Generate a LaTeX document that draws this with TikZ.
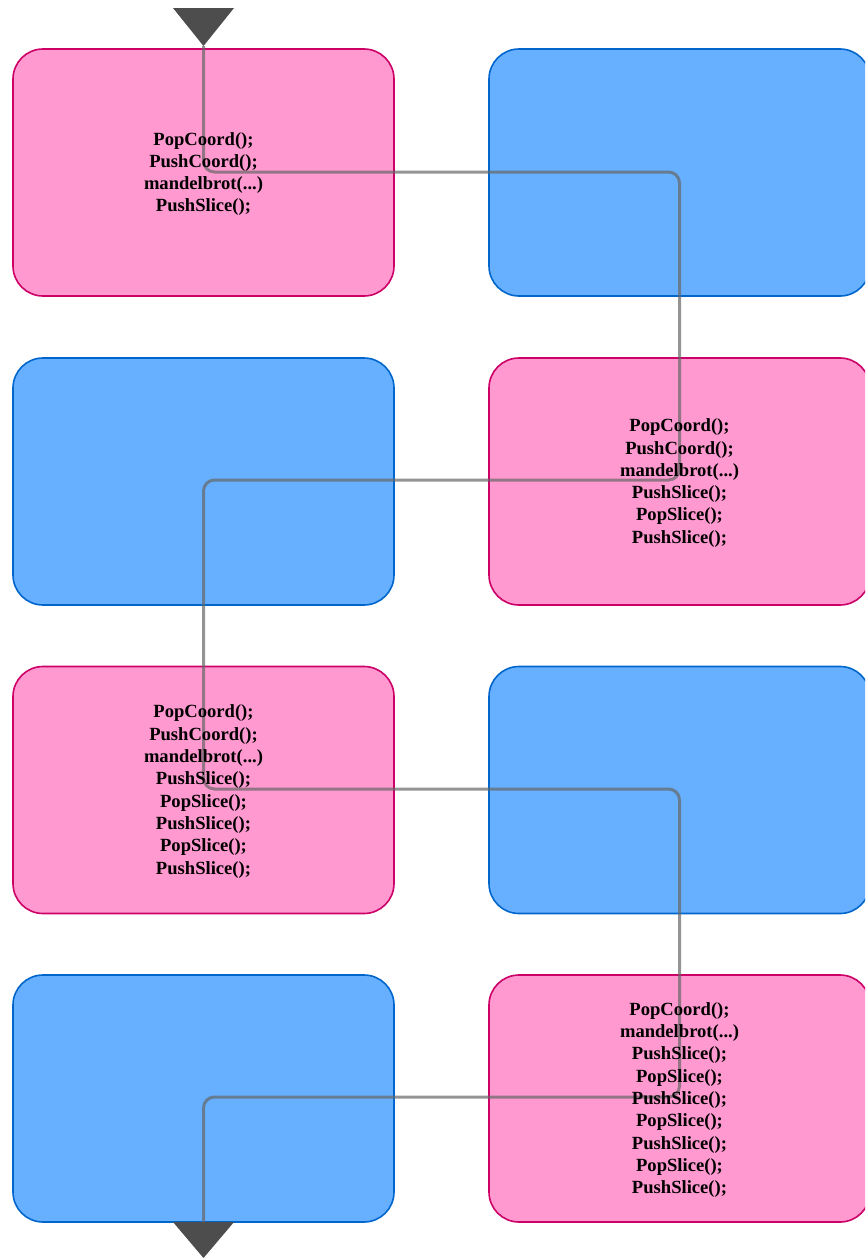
\documentclass[tikz,border=0pt]{standalone}
\usepackage{fontspec}
\setmainfont{Liberation Serif}
\begin{document}
\definecolor{pinkfill}{HTML}{FF99D0}
\definecolor{pinkline}{HTML}{CC0066}
\definecolor{bluefill}{HTML}{66B0FF}
\definecolor{blueline}{HTML}{0066CC}
\definecolor{flowgray}{HTML}{666666}
\definecolor{tipgray}{HTML}{4D4D4D}
\begin{tikzpicture}[x=1pt,y=-1pt,
  card/.style={rectangle, rounded corners=30pt, line width=1.6pt,
    minimum width=381pt, minimum height=247pt, inner sep=0pt},
  work/.style={card, fill=pinkfill, draw=pinkline},
  idle/.style={card, fill=bluefill, draw=blueline},
  code/.style={align=center, font=\fontsize{18.6}{22.3}\selectfont\bfseries},
  flow/.style={draw=flowgray, draw opacity=0.7, line width=3pt, rounded corners=11pt},
  tip/.style={fill=tipgray}]
\useasboundingbox (0,0) rectangle (865,1258);
\clip (0,0) rectangle (865,1258);

% cards: left column and right column, four rows
\node[work] (a) at (203.5,172.5) {};
\node[idle] (b) at (679.5,172.5) {};
\node[idle] (c) at (203.5,481.5) {};
\node[work] (d) at (679.5,481.5) {};
\node[work] (e) at (203.5,790) {};
\node[idle] (f) at (679.5,790) {};
\node[idle] (g) at (203.5,1098.5) {};
\node[work] (h) at (679.5,1098.5) {};

% entry and exit markers
\coordinate (inA) at (203.5,46);
\coordinate (outB) at (203.5,1222);
\fill[tip] (173,8) -- (234,8) -- (inA) -- cycle;
\fill[tip] (173,1222) -- (234,1222) -- (203.5,1258) -- cycle;

% control flow snaking through the work cards
\coordinate (t1) at (679.5,172);
\coordinate (t2) at (203.5,480);
\coordinate (t3) at (679.5,789);
\coordinate (t4) at (203.5,1097);
\draw[flow] (inA) |- (t1) |- (t2) |- (t3) |- (t4) -- (outB);

% call sequences
\node[code] (ta) at ([yshift=-1.5pt]a.center) {PopCoord();\\PushCoord();\\mandelbrot(...)\\PushSlice();};
\node[code] (td) at ([yshift=-1.5pt]d.center) {PopCoord();\\PushCoord();\\mandelbrot(...)\\PushSlice();\\PopSlice();\\PushSlice();};
\node[code] (te) at ([yshift=-1.5pt]e.center) {PopCoord();\\PushCoord();\\mandelbrot(...)\\PushSlice();\\PopSlice();\\PushSlice();\\PopSlice();\\PushSlice();};
\node[code] (th) at ([yshift=-1.5pt]h.center) {PopCoord();\\mandelbrot(...)\\PushSlice();\\PopSlice();\\PushSlice();\\PopSlice();\\PushSlice();\\PopSlice();\\PushSlice();};
\end{tikzpicture}
\end{document}
